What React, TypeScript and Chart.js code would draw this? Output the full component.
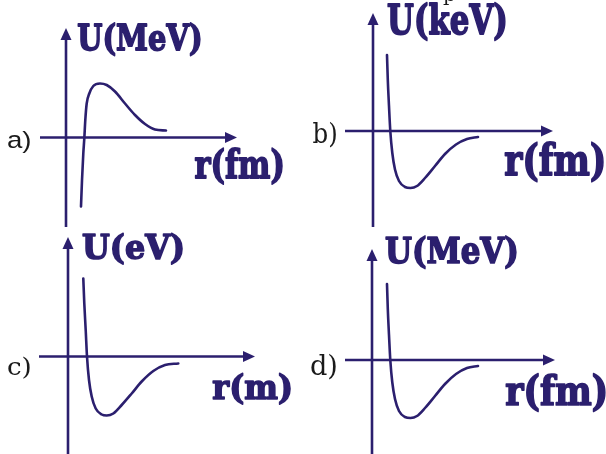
import React, { useEffect, useRef } from "react";
import { Chart, registerables } from "chart.js";

Chart.register(...registerables);

const INK = "#2b1f6e";
const TAG_INK = "#1a1a1a";

// Potential-energy sketches U(r): a) repulsive hump, b)–d) potential well
const rA = [1.5, 1.6, 1.73, 1.83, 1.93, 2.07, 2.33, 2.73, 3.4, 4.07, 4.9, 5.9, 6.9, 7.9, 8.9, 10.0];
const uA = [-6.9, -4.3, -1.6, -0.1, 1.75, 3.4, 4.4, 5.15, 5.4, 5.25, 4.6, 3.4, 2.25, 1.35, 0.8, 0.7];

const rB = [1.4, 1.48, 1.6, 1.73, 1.93, 2.2, 2.6, 3.2, 3.75, 4.4, 5.2, 6.2, 7.2, 8.3, 9.4, 10.5];
const uB = [7.6, 5.1, 2.5, 0, -2.2, -3.85, -5.0, -5.6, -5.7, -5.5, -4.7, -3.5, -2.3, -1.35, -0.8, -0.6];

const rC = [1.53, 1.63, 1.77, 1.9, 2.1, 2.37, 2.77, 3.37, 3.87, 4.53, 5.37, 6.37, 7.37, 8.53, 9.7, 11.03];
const uC = [7.8, 5.3, 2.65, 0, -2.35, -4.0, -5.2, -5.8, -5.9, -5.7, -4.85, -3.7, -2.5, -1.45, -0.85, -0.7];

const rD = [1.5, 1.58, 1.7, 1.83, 2.03, 2.3, 2.7, 3.3, 3.85, 4.5, 5.3, 6.3, 7.3, 8.4, 9.5, 10.6];
const uD = [7.6, 5.1, 2.5, 0, -2.25, -3.9, -5.1, -5.7, -5.8, -5.6, -4.8, -3.6, -2.4, -1.4, -0.8, -0.6];

const tags = ["a)", "b)", "c)", "d)"];
const yTitles = ["U(MeV)", "U(keV)", "U(eV)", "U(MeV)"];
const xTitles = ["r(fm)", "r(fm)", "r(m)", "r(fm)"];

type Box = [number, number, number, number]; // left, top, right, bottom (canvas px)

type PanelSpec = {
  left: number;
  top: number;
  origin: [number, number];
  hAxis: [number, number];
  vAxis: [number, number];
  r: number[];
  u: number[];
  tag: string;
  tagFamily: string;
  tagBox: Box;
  yTitle: string;
  yTitleBox: Box;
  xTitle: string;
  xTitleBox: Box;
  extra?: { text: string; font: string; at: [number, number] };
};

const W = 303;
const H = 227;

const panels: PanelSpec[] = [
  {
    left: 0, top: 0, origin: [66, 137.5],
    hAxis: [-2.6, 17.1], vAxis: [-9.0, 10.95],
    r: rA, u: uA,
    tag: tags[0], tagFamily: '"Liberation Sans"', tagBox: [8, 130, 30, 153],
    yTitle: yTitles[0], yTitleBox: [78, 23, 200, 56],
    xTitle: xTitles[0], xTitleBox: [195, 148, 282, 184],
  },
  {
    left: 303, top: 0, origin: [70, 131],
    hAxis: [-2.8, 18.0], vAxis: [-9.6, 11.8],
    r: rB, u: uB,
    tag: tags[1], tagFamily: '"DejaVu Serif"', tagBox: [10, 122, 33, 147],
    yTitle: yTitles[1], yTitleBox: [85, 3, 202, 40],
    xTitle: xTitles[1], xTitleBox: [202, 143, 300, 182],
    extra: { text: "p", font: '20px "DejaVu Serif"', at: [140, 1] },
  },
  {
    left: 0, top: 227, origin: [68, 129.5],
    hAxis: [-2.9, 18.7], vAxis: [-9.8, 11.95],
    r: rC, u: uC,
    tag: tags[2], tagFamily: '"DejaVu Serif"', tagBox: [8, 130, 30, 152],
    yTitle: yTitles[2], yTitleBox: [83, 7, 182, 37],
    xTitle: xTitles[2], xTitleBox: [213, 147, 290, 177],
  },
  {
    left: 303, top: 227, origin: [69, 133],
    hAxis: [-2.7, 18.3], vAxis: [-9.4, 11.1],
    r: rD, u: uD,
    tag: tags[3], tagFamily: '"DejaVu Serif"', tagBox: [8, 127, 33, 153],
    yTitle: yTitles[3], yTitleBox: [83, 10, 213, 42],
    xTitle: xTitles[3], xTitleBox: [203, 147, 302, 185],
  },
];

// Draw text so that its ink exactly fills the given box
function fitText(ctx: CanvasRenderingContext2D, text: string, font: string, box: Box, thicken: number) {
  ctx.save();
  ctx.font = font;
  ctx.textAlign = "left";
  ctx.textBaseline = "alphabetic";
  const m = ctx.measureText(text);
  const inkW = m.actualBoundingBoxLeft + m.actualBoundingBoxRight;
  const inkH = m.actualBoundingBoxAscent + m.actualBoundingBoxDescent;
  const sx = (box[2] - box[0]) / inkW;
  const sy = (box[3] - box[1]) / inkH;
  ctx.translate(box[0] + m.actualBoundingBoxLeft * sx, box[1] + m.actualBoundingBoxAscent * sy);
  ctx.scale(sx, sy);
  ctx.fillText(text, 0, 0);
  if (thicken > 0) {
    ctx.lineJoin = "round";
    ctx.lineWidth = thicken / ((sx + sy) / 2);
    ctx.strokeText(text, 0, 0);
  }
  ctx.restore();
}

function Panel({ spec }: { spec: PanelSpec }) {
  const ref = useRef<HTMLCanvasElement | null>(null);

  useEffect(() => {
    if (!ref.current) return;
    const [ox, oy] = spec.origin;
    const axesPlugin = {
      id: "sketchAxes",
      beforeDatasetsDraw(chart: any) {
        const { ctx, scales } = chart;
        const xs = scales.x;
        const ys = scales.y;
        const px = xs.getPixelForValue(0);
        const py = ys.getPixelForValue(0);
        ctx.save();
        ctx.strokeStyle = INK;
        ctx.fillStyle = INK;
        ctx.lineWidth = 2.6;
        // r axis with arrow head
        const hx0 = xs.getPixelForValue(spec.hAxis[0]);
        const hx1 = xs.getPixelForValue(spec.hAxis[1]);
        ctx.beginPath();
        ctx.moveTo(hx0, py);
        ctx.lineTo(hx1 - 10, py);
        ctx.stroke();
        ctx.beginPath();
        ctx.moveTo(hx1, py);
        ctx.lineTo(hx1 - 12, py - 5.5);
        ctx.lineTo(hx1 - 12, py + 5.5);
        ctx.closePath();
        ctx.fill();
        // U axis with arrow head
        const vy0 = ys.getPixelForValue(spec.vAxis[0]);
        const vy1 = ys.getPixelForValue(spec.vAxis[1]);
        ctx.beginPath();
        ctx.moveTo(px, vy0);
        ctx.lineTo(px, vy1 + 10);
        ctx.stroke();
        ctx.beginPath();
        ctx.moveTo(px, vy1);
        ctx.lineTo(px - 5.5, vy1 + 12);
        ctx.lineTo(px + 5.5, vy1 + 12);
        ctx.closePath();
        ctx.fill();
        ctx.restore();
      },
      afterDraw(chart: any) {
        const ctx = chart.ctx as CanvasRenderingContext2D;
        ctx.save();
        ctx.fillStyle = INK;
        ctx.strokeStyle = INK;
        const bold = 'bold 100px "DejaVu Serif"';
        fitText(ctx, spec.yTitle, bold, spec.yTitleBox, 1.6);
        fitText(ctx, spec.xTitle, bold, spec.xTitleBox, 1.6);
        ctx.fillStyle = TAG_INK;
        fitText(ctx, spec.tag, `100px ${spec.tagFamily}`, spec.tagBox, 0);
        if (spec.extra) {
          ctx.fillStyle = TAG_INK;
          ctx.font = spec.extra.font;
          ctx.textBaseline = "alphabetic";
          ctx.fillText(spec.extra.text, spec.extra.at[0], spec.extra.at[1]);
        }
        ctx.restore();
      },
    };

    const chart = new Chart(ref.current, {
      type: "line",
      data: {
        datasets: [
          {
            data: spec.r.map((r, i) => ({ x: r, y: spec.u[i] })),
            borderColor: INK,
            borderWidth: 2.6,
            pointRadius: 0,
            cubicInterpolationMode: "monotone",
            borderCapStyle: "round",
            fill: false,
          },
        ],
      },
      options: {
        animation: false,
        responsive: false,
        devicePixelRatio: 1,
        layout: { padding: 0 },
        plugins: { legend: { display: false }, tooltip: { enabled: false } },
        scales: {
          x: { type: "linear", display: false, min: -ox / 10, max: (W - ox) / 10 },
          y: { type: "linear", display: false, min: -(H - oy) / 10, max: oy / 10 },
        },
      },
      plugins: [axesPlugin],
    } as any);
    return () => chart.destroy();
  }, [spec]);

  return (
    <canvas
      ref={ref}
      width={W}
      height={H}
      style={{ position: "absolute", left: spec.left, top: spec.top, width: W, height: H }}
    />
  );
}

export default function App() {
  return (
    <div style={{ position: "fixed", left: 0, top: 0, width: 606, height: 454, background: "#ffffff", overflow: "hidden" }}>
      {panels.map((p, i) => (
        <Panel key={i} spec={p} />
      ))}
    </div>
  );
}
